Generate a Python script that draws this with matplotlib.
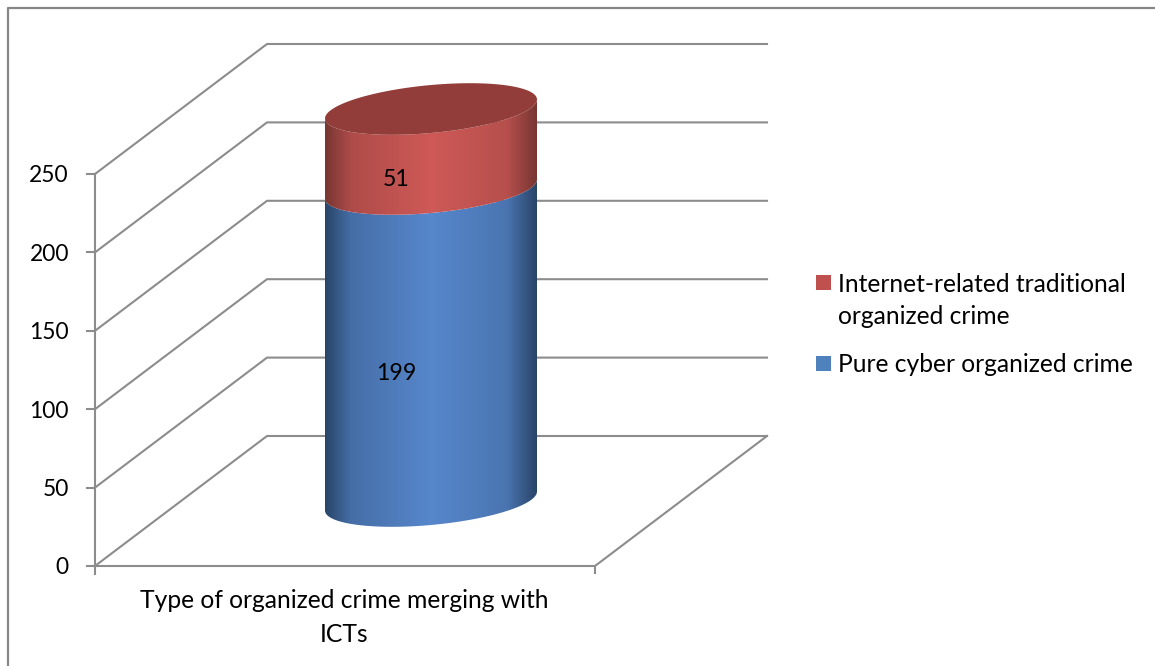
"""Stacked 3D-style cylinder: organized crime merging with ICTs"""

import numpy as np
import matplotlib.pyplot as plt
from matplotlib.patches import Polygon, Rectangle

plt.rcParams['font.family'] = ['Lato', 'DejaVu Sans']

category = "Type of organized crime merging with\nICTs"
series_names = ["Pure cyber organized crime", "Internet-related traditional\norganized crime"]
series_values = [199, 51]
y_ticks = [0, 50, 100, 150, 200, 250]

# Chart box geometry, in pixels
X0, Y0 = 95, 566
WIDTH = 500
PX_PER_UNIT = 392 / 250
DEPTH_X, DEPTH_Y = 172, 130
RADIUS_X, RADIUS_Y, TILT = 106, 24, 9.5

GRID = '#8c8c8c'
FONT = 17.7
RED_EDGE, RED_MID, RED_TOP = (0.47, 0.21, 0.20), (0.81, 0.35, 0.34), '#923d3a'
BLUE_EDGE, BLUE_MID = (0.16, 0.27, 0.41), (0.34, 0.53, 0.80)


def project(u, depth, value):
    """u and depth run 0..1 across and into the box, value is in chart units."""
    return (X0 + u * WIDTH + depth * DEPTH_X,
            Y0 - depth * DEPTH_Y - value * PX_PER_UNIT)


def arc(value, t0, t1):
    # Part of the tilted ellipse around the cylinder at the given height
    cx, cy = project(0.5, 0.5, value)
    t = np.linspace(t0, t1, 120)
    return np.column_stack([cx + RADIUS_X * np.cos(t),
                            cy - TILT * np.cos(t) + RADIUS_Y * np.sin(t)])


def gradient(edge, mid):
    # Dark at both sides of the cylinder, light in the middle
    stops = [0, 0.12, 0.5, 0.86, 1]
    mix = [0, 0.62, 1, 0.72, 0]
    s = np.interp(np.linspace(0, 1, 256), stops, mix)
    return np.array([[(1 - v) * np.array(edge) + v * np.array(mid) for v in s]])


fig = plt.figure(figsize=(11.55, 6.66), dpi=100)
ax = fig.add_axes([0, 0, 1, 1])
ax.set_xlim(0, 1155)
ax.set_ylim(666, 0)
ax.axis('off')

# Outer frame of the chart
ax.plot([7.5, 7.5, 1155], [666, 7.5, 7.5], color='#868686', lw=1.6)

# Gridlines on the side and back walls
for v in y_ticks:
    front = project(0, 0, v)
    back_l = project(0, 1, v)
    back_r = project(1, 1, v)
    ax.plot([front[0], back_l[0], back_r[0]], [front[1], back_l[1], back_r[1]],
            color=GRID, lw=1.5)
    ax.plot([front[0] - 8, front[0]], [front[1], front[1]], color=GRID, lw=1.5)
    ax.text(front[0] - 26, front[1] + 2, str(v), ha='right', va='center', fontsize=FONT - 1.3, color='black')

# Axis lines and floor
p0 = project(0, 0, 0)
p1 = project(1, 0, 0)
p2 = project(1, 1, 0)
top = project(0, 0, y_ticks[-1])
ax.plot([top[0], p0[0], p0[0]], [top[1], p0[1], p0[1] + 8], color=GRID, lw=1.5)
ax.plot([p0[0], p1[0], p2[0]], [p0[1], p1[1], p2[1]], color=GRID, lw=1.5)
ax.plot([p1[0], p1[0]], [p1[1], p1[1] + 7], color=GRID, lw=1.5)

# Cylinder segments, stacked from the bottom
x_left = project(0.5, 0.5, 0)[0] - RADIUS_X
x_right = project(0.5, 0.5, 0)[0] + RADIUS_X
base = 0
for val, edge, mid, label_dy in zip(series_values, [BLUE_EDGE, RED_EDGE], [BLUE_MID, RED_MID], [29, 31]):
    lower = arc(base, np.pi, 0)
    upper = arc(base + val, 0, np.pi)
    outline = Polygon(np.vstack([lower, upper]), closed=True, fc='none', ec='none')
    ax.add_patch(outline)
    im = ax.imshow(gradient(edge, mid), extent=[x_left, x_right, 666, 0], aspect='auto', zorder=3)
    im.set_clip_path(outline)
    cx, cy = project(0.5, 0.5, base + val / 2)
    ax.text(cx - 35, cy + label_dy, str(val), ha='center', va='center', fontsize=FONT - 1, color='black', zorder=5)
    base += val

# Lid of the cylinder
ax.add_patch(Polygon(arc(base, 0, 2 * np.pi), closed=True, fc=RED_TOP, ec='none', zorder=4))

# Restore the limits imshow changed
ax.set_xlim(0, 1155)
ax.set_ylim(666, 0)

# Category label
ax.text(344.5, 601, category.split('\n')[0], ha='center', va='center', fontsize=FONT)
ax.text(344.5, 634, category.split('\n')[1], ha='center', va='center', fontsize=FONT)

# Legend
ax.add_patch(Rectangle((816, 275), 15, 15, fc='#c0504d', ec='none'))
ax.text(838, 284, series_names[1].split('\n')[0], va='center', fontsize=FONT)
ax.text(838, 316, series_names[1].split('\n')[1], va='center', fontsize=FONT)
ax.add_patch(Rectangle((816, 356), 15, 15, fc='#4f81bd', ec='none'))
ax.text(838, 364, series_names[0], va='center', fontsize=FONT)

fig.savefig('out.png', dpi=100)
